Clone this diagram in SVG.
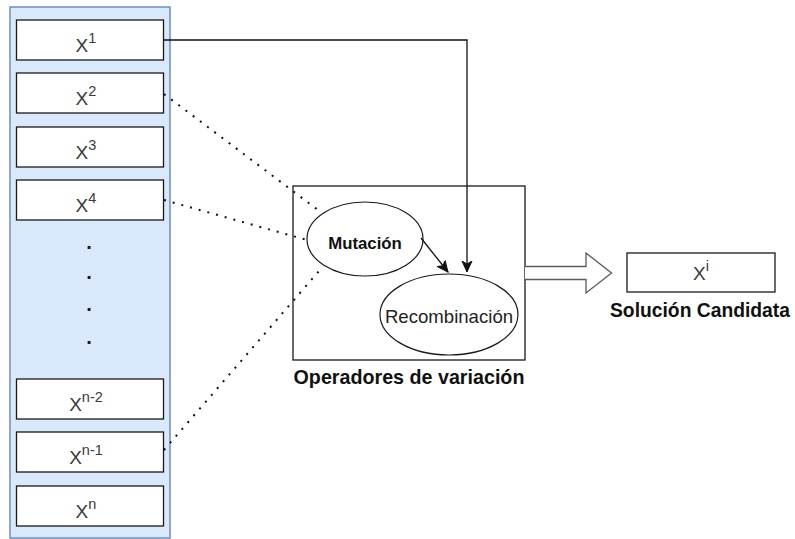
<svg xmlns="http://www.w3.org/2000/svg" width="795" height="539" viewBox="0 0 795 539">
  <style>
    .panel { fill: #dae8fc; stroke: #6c8ebf; stroke-width: 1.5; }
    .box { fill: #ffffff; stroke: #1a1a1a; stroke-width: 1.3; }
    .xl { font-family: "Liberation Sans", Arial, sans-serif; font-size: 19px; fill: #3a3a3a; text-anchor: middle; }
    .sup { font-size: 14.5px; }
    .dot { font-family: "Liberation Sans", Arial, sans-serif; font-size: 20px; font-weight: bold; fill: #1a1a1a; text-anchor: middle; }
    .lbl { font-family: "Liberation Sans", Arial, sans-serif; font-weight: bold; fill: #111111; text-anchor: middle; }
    .ell { fill: #ffffff; stroke: #1a1a1a; stroke-width: 1.2; }
    .edge { fill: none; stroke: #111111; stroke-width: 1.3; }
    .dotted { fill: none; stroke: #111111; stroke-width: 2; stroke-dasharray: 2 7; }
  </style>
  <defs>
    <marker id="arrow" viewBox="0 0 12 12" refX="11" refY="6" markerWidth="12" markerHeight="12" markerUnits="userSpaceOnUse" orient="auto">
      <path d="M0,1 L11,6 L0,11 L3,6 Z" fill="#111111" stroke="#111111" stroke-width="1"/>
    </marker>
  </defs>

  <!-- population panel -->
  <g id="population">
    <rect class="panel" x="10" y="7" width="160" height="531"/>
  </g>

  <g id="x1">
    <rect class="box" x="16.5" y="20" width="147" height="40"/>
    <text class="xl" x="86" y="52">X<tspan class="sup" dy="-9">1</tspan></text>
  </g>
  <g id="x2">
    <rect class="box" x="16.5" y="73" width="147" height="40"/>
    <text class="xl" x="86" y="105">X<tspan class="sup" dy="-9">2</tspan></text>
  </g>
  <g id="x3">
    <rect class="box" x="16.5" y="127" width="147" height="40"/>
    <text class="xl" x="86" y="159">X<tspan class="sup" dy="-9">3</tspan></text>
  </g>
  <g id="x4">
    <rect class="box" x="16.5" y="180" width="147" height="40"/>
    <text class="xl" x="86" y="212">X<tspan class="sup" dy="-9">4</tspan></text>
  </g>
  <g id="ellipsis">
    <text class="dot" x="89" y="249">.</text>
    <text class="dot" x="89" y="279">.</text>
    <text class="dot" x="89" y="311">.</text>
    <text class="dot" x="89" y="344">.</text>
  </g>
  <g id="xn2">
    <rect class="box" x="16.5" y="379" width="147" height="40"/>
    <text class="xl" x="86" y="411">X<tspan class="sup" dy="-9">n-2</tspan></text>
  </g>
  <g id="xn1">
    <rect class="box" x="16.5" y="432" width="147" height="40"/>
    <text class="xl" x="86" y="464">X<tspan class="sup" dy="-9">n-1</tspan></text>
  </g>
  <g id="xn">
    <rect class="box" x="16.5" y="486" width="147" height="40"/>
    <text class="xl" x="86" y="518">X<tspan class="sup" dy="-9">n</tspan></text>
  </g>

  <!-- variation operators -->
  <g id="operadores">
    <rect class="box" x="293" y="186" width="232" height="174"/>
    <text class="lbl" x="409" y="384" font-size="19.7">Operadores de variación</text>
  </g>
  <g id="mutacion">
    <ellipse class="ell" cx="365" cy="239" rx="58" ry="37"/>
    <text class="lbl" x="365" y="249" font-size="16.8" fill="#222222">Mutación</text>
  </g>
  <g id="recombinacion">
    <ellipse class="ell" cx="449" cy="314.5" rx="69" ry="40.5"/>
    <text x="449" y="323" font-family="Liberation Sans, Arial, sans-serif" font-size="18.6" fill="#222222" text-anchor="middle">Recombinación</text>
  </g>

  <!-- candidate solution -->
  <g id="solucion">
    <rect class="box" x="627" y="253" width="148" height="39"/>
    <text class="xl" x="701" y="280">X<tspan class="sup" dy="-9">i</tspan></text>
    <text class="lbl" x="700" y="317" font-size="19.3">Solución Candidata</text>
  </g>

  <!-- connectors -->
  <g id="connectors">
    <path class="edge" d="M163.5,40 L467,40 L467,272" marker-end="url(#arrow)"/>
    <path class="edge" d="M421,238 L448,272" marker-end="url(#arrow)"/>
    <path class="dotted" d="M164,94 L318,210"/>
    <path class="dotted" d="M164,200 L307,240"/>
    <path class="dotted" d="M164,450 L319,271"/>
    <path d="M525,266.5 L586,266.5 L586,253 L611.5,273 L586,293 L586,279.5 L525,279.5" fill="#ffffff" stroke="#5a5a5a" stroke-width="1.3"/>
  </g>
</svg>
